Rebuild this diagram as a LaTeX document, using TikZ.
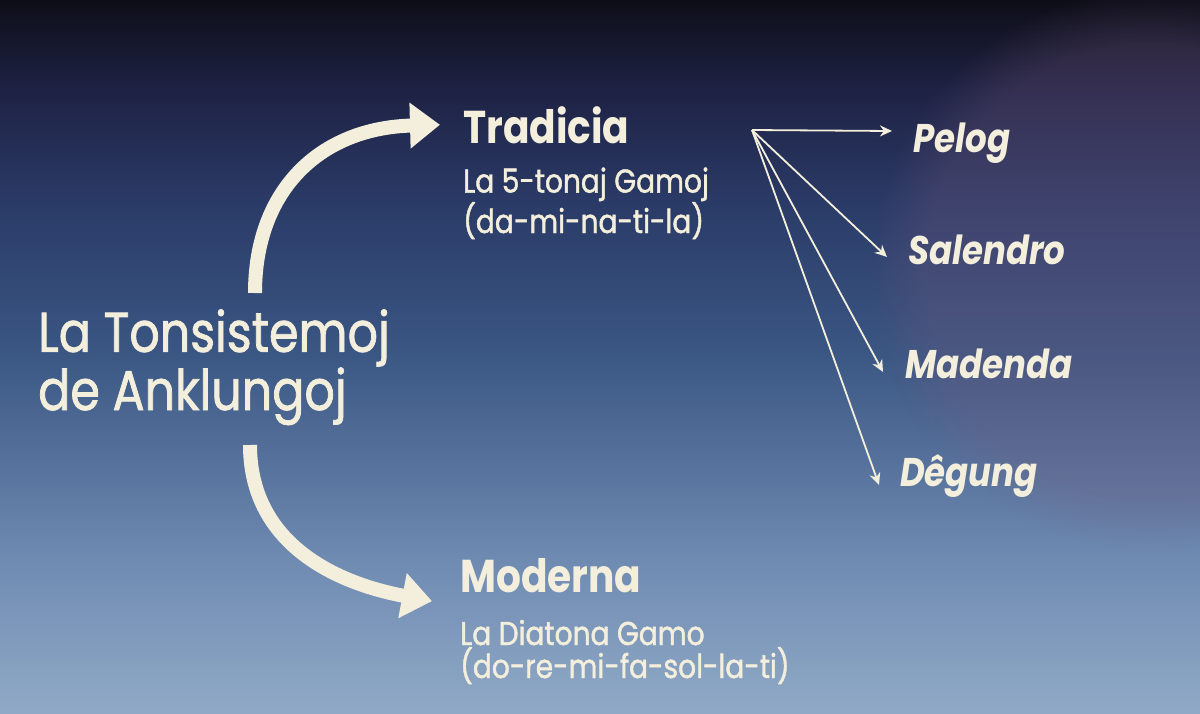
\documentclass[tikz,border=0pt]{standalone}
\usepackage{fontspec}
\setmainfont{Poppins}[FakeStretch=0.85]
\newfontfamily\medfont{Poppins}[FakeStretch=0.85,FakeBold=1.3]
\usetikzlibrary{arrows.meta}
\usetikzlibrary{calc}
\usetikzlibrary{fadings}

\definecolor{cream}{HTML}{F3EFDC}
\definecolor{bgtop}{HTML}{0E0E18}
\definecolor{bgupper}{HTML}{1E2244}
\definecolor{bghigh}{HTML}{2A3A66}
\definecolor{bgmid}{HTML}{3B5784}
\definecolor{bglow}{HTML}{6F8BB2}
\definecolor{bgbottom}{HTML}{90A9C6}
\definecolor{glow}{HTML}{7A5A7E}
% only 25bp..75bp of the shading is visible
\pgfdeclareverticalshading{screen}{100bp}{color(0bp)=(bgbottom); color(25bp)=(bgbottom); color(35.7bp)=(bglow); color(50bp)=(bgmid); color(61bp)=(bghigh); color(68.7bp)=(bgupper); color(75bp)=(bgtop); color(100bp)=(bgtop)}

\begin{document}
\begin{tikzpicture}[x=1pt,y=-1pt,
    every node/.style={inner sep=0pt,anchor=base west,text=cream},
    title/.style={font=\medfont\fontsize{56}{50}\selectfont,align=left},
    head/.style={font=\bfseries\fontsize{46}{50}\selectfont},
    sub/.style={font=\medfont\fontsize{33}{33}\selectfont,align=left},
    scalename/.style={font=\bfseries\itshape\fontsize{40}{44}\selectfont},
    bigarrow/.style={line width=14pt,draw=cream,-{Triangle[width=44pt,length=30pt]}},
    thinarrow/.style={line width=1.8pt,draw=cream,-{Stealth[width=11pt,length=12pt]}}]

    \useasboundingbox (0,0) rectangle (1200,713);
    \shade[shading=screen] (0,0) rectangle (1200,713);
    \fill[glow,opacity=0.25,path fading=circle with fuzzy edge 20 percent] (1150,270) circle (280);

    % multi-line nodes sit on the baseline of their last line
    \node[title] (tonsis) at (38,410) {La Tonsistemoj\\de Anklungoj};

    \node[head] (tradicia) at (463,143) {Tradicia};
    \node[sub] (tradgamo) at (463,233) {La 5-tonaj Gamoj\\(da-mi-na-ti-la)};

    \node[head] (moderna) at (460,592) {Moderna};
    \node[sub] (modgamo) at (460,678) {La Diatona Gamo\\(do-re-mi-fa-sol-la-ti)};

    \coordinate (up) at (255,293);
    \coordinate (down) at (250,445);
    \draw[bigarrow] (up) .. controls (255,190) and (320,128) .. ([xshift=-23pt]tradicia.west);
    \draw[bigarrow] (down) .. controls (250,540) and (330,582) .. ([shift={(-28,26)}]moderna.west);

    \coordinate (fan) at (752,130);
    \foreach \n/\lbl/\x/\y/\ex/\ey in {pelog/Pelog/913/152/892/131,
        salendro/Salendro/908/264/887/257,
        madenda/Madenda/905/378/883/372,
        degung/Dêgung/900/486/879/485} {
        \node[scalename] (\n) at (\x,\y) {\lbl};
        \coordinate (\n-end) at (\ex,\ey);
        \draw[thinarrow] (fan) -- (\n-end);
    }
\end{tikzpicture}
\end{document}
